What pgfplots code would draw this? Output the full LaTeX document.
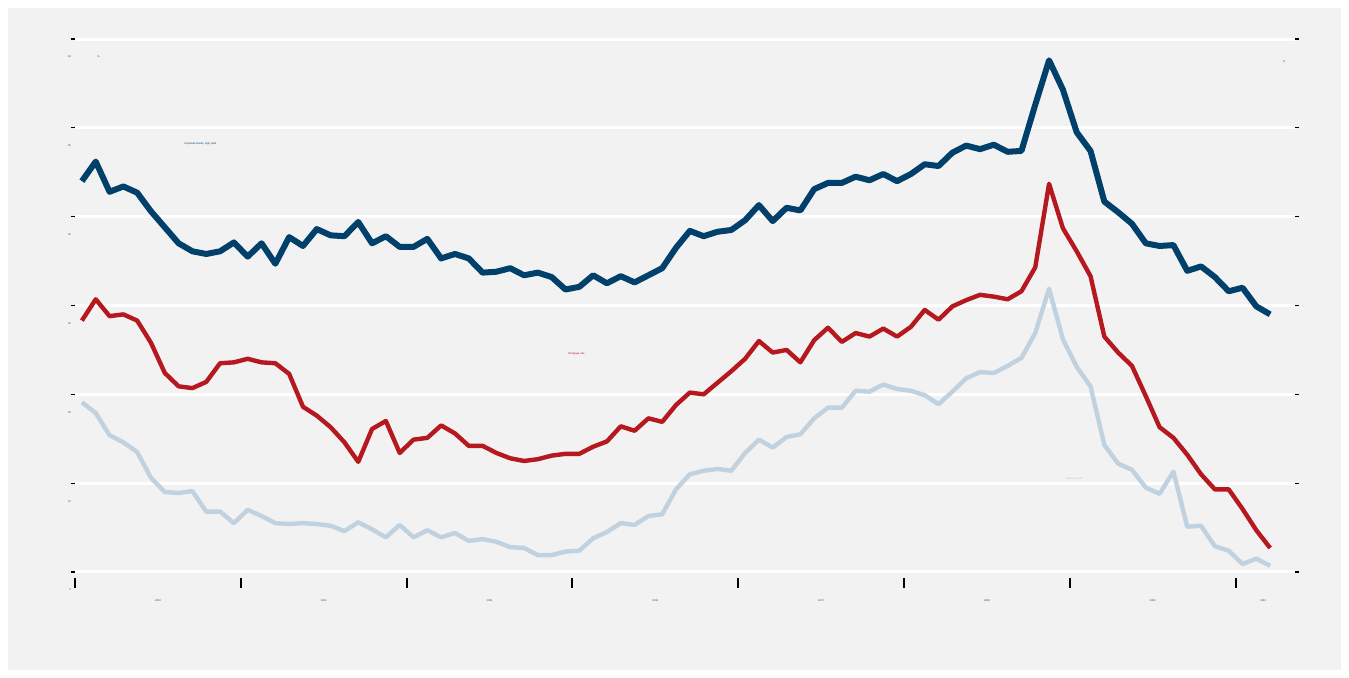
\documentclass[border=0pt]{standalone}
\usepackage{pgfplots}
\pgfplotsset{compat=1.18}
\usepackage{pgfplotstable}
\usepackage{fontspec}
\setmainfont{Liberation Sans}
\definecolor{bgpanel}{HTML}{F2F2F2}
\definecolor{navy}{HTML}{00406A}
\definecolor{crimson}{HTML}{B5191F}
\definecolor{paleblue}{HTML}{C0D1E0}
\newcommand{\tinyfont}{\fontsize{1.3}{1.5}\selectfont}
\pgfplotstableread{
i a b c
0 44.0 28.3 19.1
1 46.2 30.7 17.9
2 42.8 28.8 15.4
3 43.4 29.0 14.6
4 42.7 28.3 13.5
5 40.6 25.8 10.6
6 38.8 22.4 9.0
7 37.0 20.9 8.9
8 36.1 20.7 9.1
9 35.8 21.4 6.8
10 36.1 23.5 6.8
11 37.1 23.6 5.5
12 35.5 24.0 7.0
13 37.0 23.6 6.3
14 34.7 23.5 5.5
15 37.7 22.3 5.4
16 36.7 18.6 5.5
17 38.6 17.6 5.4
18 37.9 16.3 5.2
19 37.8 14.6 4.6
20 39.4 12.4 5.6
21 37.0 16.1 4.8
22 37.8 17.0 3.9
23 36.6 13.4 5.3
24 36.6 14.9 3.9
25 37.5 15.1 4.7
26 35.3 16.5 3.9
27 35.8 15.6 4.4
28 35.3 14.2 3.5
29 33.7 14.2 3.7
30 33.8 13.4 3.4
31 34.2 12.8 2.8
32 33.4 12.5 2.7
33 33.7 12.7 1.9
34 33.2 13.1 1.9
35 31.8 13.3 2.3
36 32.1 13.3 2.4
37 33.4 14.1 3.8
38 32.5 14.7 4.5
39 33.3 16.4 5.5
40 32.6 15.9 5.3
41 33.4 17.3 6.3
42 34.2 16.9 6.5
43 36.5 18.8 9.3
44 38.4 20.2 11.0
45 37.8 20.0 11.4
46 38.3 21.3 11.6
47 38.5 22.6 11.4
48 39.6 24.0 13.4
49 41.3 26.0 14.9
50 39.5 24.7 14.0
51 41.0 25.0 15.2
52 40.7 23.6 15.5
53 43.1 26.1 17.3
54 43.8 27.5 18.5
55 43.8 25.9 18.5
56 44.5 26.9 20.4
57 44.1 26.5 20.3
58 44.8 27.4 21.1
59 44.0 26.5 20.6
60 44.8 27.6 20.4
61 45.9 29.5 19.9
62 45.7 28.4 18.9
63 47.2 29.9 20.3
64 48.0 30.6 21.8
65 47.6 31.2 22.5
66 48.1 31.0 22.4
67 47.3 30.7 23.2
68 47.4 31.6 24.1
69 52.6 34.3 26.9
70 57.6 43.7 31.9
71 54.3 38.7 26.2
72 49.5 36.1 23.1
73 47.4 33.3 20.9
74 41.7 26.5 14.3
75 40.5 24.7 12.2
76 39.2 23.2 11.5
77 37.0 19.8 9.5
78 36.7 16.3 8.8
79 36.8 15.1 11.3
80 33.9 13.2 5.1
81 34.4 11.0 5.2
82 33.2 9.3 2.9
83 31.6 9.3 2.4
84 32.0 7.1 0.9
85 29.9 4.7 1.5
86 29.0 2.7 0.7
}\datatable
\begin{document}
\begin{tikzpicture}
\useasboundingbox (0,0) rectangle (674.5pt,339pt);
\fill[white] (0,0) rectangle (674.5pt,339pt);
\fill[bgpanel] (4pt,4pt) rectangle (670.5pt,335pt);
\begin{axis}[
  at={(37.5pt,53pt)}, anchor=south west,
  scale only axis, width=610pt, height=266.5pt,
  xmin=-0.5, xmax=87.8, ymin=0, ymax=60,
  clip=false,
  axis line style={draw=none},
  ytick={0,10,20,30,40,50,60},
  yticklabels={0,10,20,30,40,50,60},
  ytick pos=both,
  ymajorgrids, grid style={white, line width=1.5pt},
  y tick style={black, line width=0.6pt},
  yticklabel style={font=\tinyfont, text=darkgray, yshift=-9pt, xshift=3.5pt},
  xtick={-0.5,11.5,23.5,35.5,47.5,59.5,71.5,83.5},
  xticklabels={},
  xtick pos=bottom,
  x tick style={black, line width=1pt, yshift=-3pt},
  tick align=outside,
  major tick length=2pt,
  x tick style={/pgfplots/major tick length=5pt},
  extra x ticks={5.5,17.5,29.5,41.5,53.5,65.5,77.5,85.5},
  extra x tick labels={2003,2004,2005,2006,2007,2008,2009,2010},
  extra x tick style={major tick length=0pt, tick style={draw=none},
     ticklabel style={font=\tinyfont, text=darkgray, yshift=-10.5pt}},
]
\addplot[paleblue, line width=2.2pt, line join=round] table[x=i, y=c] {\datatable};
\addplot[crimson, line width=2.2pt, line join=round] table[x=i, y=b] {\datatable};
\addplot[navy, line width=3pt, line join=round] table[x=i, y=a] {\datatable};
\node[font=\tinyfont, text=navy, anchor=west] at (axis cs:6.9,48.2) {Corporate bonds, high yield};
\node[font=\tinyfont, text=crimson] at (axis cs:35.8,24.6) {Mortgage rate};
\node[font=\tinyfont, text=paleblue!80!gray] at (axis cs:71.8,10.5) {Treasury yield};
\node[font=\tinyfont, text=darkgray, anchor=west] at (axis cs:0.6,58) {\%};
\node[font=\tinyfont, text=darkgray] at (axis cs:87.0,57.4) {\%};
\end{axis}
\end{tikzpicture}
\end{document}
